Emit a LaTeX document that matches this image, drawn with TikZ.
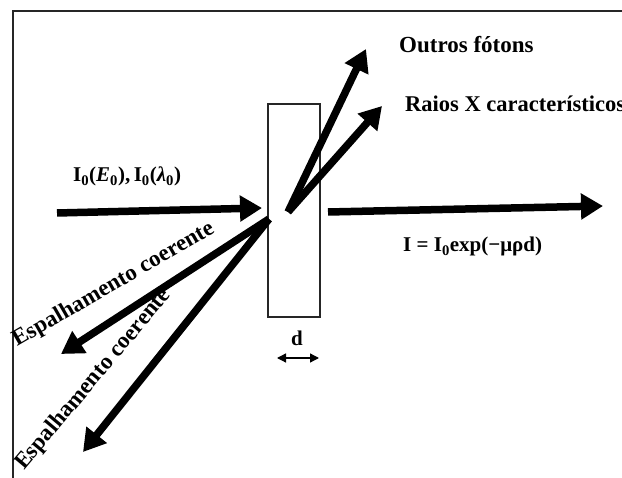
\documentclass[tikz,border=0pt]{standalone}
\usepackage{fontspec}
\setmainfont{Liberation Serif}
\usetikzlibrary{arrows.meta}
\begin{document}
\begin{tikzpicture}[x=1pt,y=-1pt,
  ray/.style={line width=7.5pt, -{Triangle[length=22pt,width=25pt]}},
  lbl/.style={font=\fontsize{23}{27}\selectfont\bfseries, inner sep=0pt},
  eq/.style={font=\fontsize{21}{25}\selectfont\bfseries, inner sep=0pt},
  frameline/.style={line width=1.8pt, draw=black!85},
  slabbox/.style={draw=black!85, line width=1.8pt, minimum width=52pt, minimum height=213pt, inner sep=0pt},
  gauge/.style={line width=1.3pt, {Triangle[length=9pt,width=9pt]}-{Triangle[length=9pt,width=9pt]}}]
\clip (0,0) rectangle (622,478);
\fill[white] (0,0) rectangle (622,478);
\draw[frameline] (13,478) -- (13,11) -- (622,11);
\node[slabbox, anchor=north west] (slab) at (267,103) {};
% coordinates
\coordinate (src) at (57,213);
\coordinate (hit) at (262,208);
\coordinate (emit) at (288,212);
\coordinate (scat) at (269,219);
\coordinate (outA) at (366,49);
\coordinate (outB) at (382,106);
\coordinate (tr0) at (328,212);
\coordinate (tr1) at (603,206);
\coordinate (sc1) at (61,354);
\coordinate (sc2) at (83,452);
\coordinate (dL) at (277,358);
\coordinate (dR) at (319,358);
% rays
\draw[ray] (src) -- (hit);
\draw[ray] (tr0) -- (tr1);
\draw[ray] (emit) -- (outA);
\draw[ray] (emit) -- (outB);
\draw[ray] (scat) -- (sc1);
\draw[ray] (scat) -- (sc2);
\draw[gauge] (dL) -- (dR);
% labels
\node[eq, anchor=base] (dlab) at (297,346) {d};
\node[lbl, anchor=base west] (outros) at (399,53) {Outros fótons};
\node[lbl, anchor=base west, font=\fontsize{22.5}{27}\selectfont\bfseries] (raios) at (405,112) {Raios X característicos};
\node[eq, anchor=base west] (inc) at (73,182) {I\textsubscript{0}(\textit{E}\textsubscript{0}),\,I\textsubscript{0}(\textit{λ}\textsubscript{0})};
\node[eq, anchor=base west] (law) at (403,252) {I = I\textsubscript{0}exp(−μρd)};
\node[lbl, anchor=base west, rotate=30] (esp1) at (17,347) {Espalhamento coerente};
\node[lbl, anchor=base west, rotate=50] (esp2) at (24,471) {Espalhamento coerente};
\end{tikzpicture}
\end{document}
